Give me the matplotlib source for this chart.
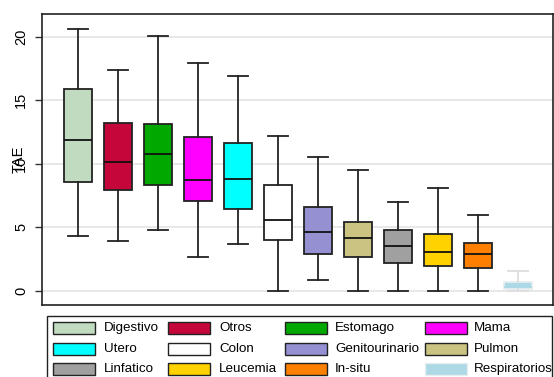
import matplotlib
matplotlib.use("Agg")
import matplotlib.pyplot as plt
from matplotlib.patches import Rectangle

plt.rcParams['font.family'] = ['Liberation Sans', 'DejaVu Sans']

# box statistics (TAE)
groups = ['Digestivo', 'Otros', 'Estomago', 'Mama', 'Utero', 'Colon',
          'Genitourinario', 'Pulmon', 'Linfatico', 'Leucemia', 'In-situ', 'Respiratorios']
whislo = [4.3, 3.95, 4.8, 2.7, 3.7, 0.0, 0.9, 0.0, 0.0, 0.0, 0.0, 0.0]
q1 = [8.6, 7.9, 8.35, 7.1, 6.45, 4.0, 2.9, 2.65, 2.2, 1.95, 1.8, 0.13]
med = [11.9, 10.1, 10.8, 8.75, 8.8, 5.6, 4.6, 4.2, 3.5, 3.05, 2.9, 0.35]
q3 = [15.9, 13.2, 13.1, 12.1, 11.6, 8.3, 6.6, 5.4, 4.8, 4.5, 3.8, 0.7]
whishi = [20.6, 17.4, 20.05, 17.9, 16.9, 12.15, 10.5, 9.5, 7.0, 8.1, 6.0, 1.6]
colors = ['#c0dbc0', '#c4063a', '#00a800', '#ff00ff', '#00ffff', '#ffffff',
          '#9490d2', '#cbc382', '#a0a0a0', '#ffd200', '#ff8000', '#add8e6']
yticks = [0, 5, 10, 15, 20]

W, H = 554, 377
fig = plt.figure(figsize=(W / 100, H / 100), dpi=100)
ax = fig.add_axes([42 / W, 1 - 305 / H, (553 - 42) / W, (305 - 14) / H])

stats = []
for i in range(len(groups)):
    stats.append(dict(label=groups[i], whislo=whislo[i], q1=q1[i], med=med[i],
                      q3=q3[i], whishi=whishi[i], fliers=[]))

pos = list(range(1, len(groups) + 1))
bp = ax.bxp(stats, positions=pos, widths=0.72, patch_artist=True, showfliers=False,
            capwidths=0.5)
for i, box in enumerate(bp['boxes']):
    box.set_facecolor(colors[i])
    box.set_edgecolor('#222222')
    box.set_linewidth(1.3)
for k in ['whiskers', 'caps']:
    for ln in bp[k]:
        ln.set_color('#222222')
        ln.set_linewidth(1.3)
for ln in bp['medians']:
    ln.set_color('#111111')
    ln.set_linewidth(1.3)
# last group drawn in light tones
last = len(groups) - 1
bp['boxes'][last].set_edgecolor('#e6eef0')
bp['medians'][last].set_color(colors[last])
for ln in bp['whiskers'][2 * last:2 * last + 2] + bp['caps'][2 * last:2 * last + 2]:
    ln.set_color('#dddddd')

ax.set_xlim(0.1, 12.875)
ax.set_ylim(-1.1, 21.77)
ax.set_yticks(yticks)
ax.set_yticklabels([str(v) for v in yticks], rotation=90, va='center', fontsize=10.5)
ax.tick_params(axis='y', length=5, width=1, color='#333333', pad=5)
ax.set_xticks([])
ax.yaxis.grid(True, color='#e4e4e4', linewidth=1.2)
ax.set_axisbelow(True)
for s in ax.spines.values():
    s.set_color('#222222')
    s.set_linewidth(1.2)
ax.set_ylabel('TAE', fontsize=10.5)
ax.yaxis.set_label_coords(-0.033, 0.5)

# legend drawn as a grid of swatches
fig.patches.append(Rectangle((47 / W, 1 - 382 / H), (552 - 47) / W, (382 - 316) / H,
                             transform=fig.transFigure, fill=False,
                             edgecolor='#222222', linewidth=1.0))
col_px = [53, 168, 285, 425]
txt_px = [104, 219, 335, 474]
row_py = [328, 349, 369]
for i, g in enumerate(groups):
    r, c = divmod(i, 4)
    ec = '#e6eef0' if i == last else '#222222'
    fig.patches.append(Rectangle((col_px[c] / W, 1 - (row_py[r] + 6) / H), 42 / W, 12 / H,
                                 transform=fig.transFigure, facecolor=colors[i],
                                 edgecolor=ec, linewidth=1.0))
    fig.text(txt_px[c] / W, 1 - row_py[r] / H, g, fontsize=9.6, va='center', ha='left')

fig.savefig('out.png', dpi=100)
